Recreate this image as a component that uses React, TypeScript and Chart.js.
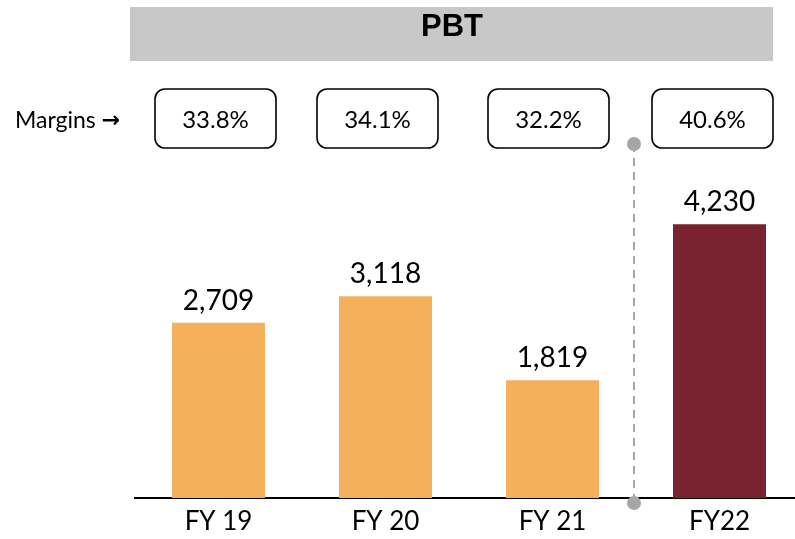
import React, { useEffect, useRef } from "react";
import { Chart, registerables } from "chart.js";
Chart.register(...registerables);

const categories = ["FY 19", "FY 20", "FY 21", "FY22"];
const pbtValues = [2709, 3118, 1819, 4230];
const marginValues = [33.8, 34.1, 32.2, 40.6];
const barColors = ["#F4B05A", "#F4B05A", "#F4B05A", "#7B2230"];
const titleText = "PBT";
const marginsLabel = "Margins";
const arrowLabel = "→";

function roundRect(ctx: CanvasRenderingContext2D, x: number, y: number, w: number, h: number, r: number) {
  ctx.beginPath();
  ctx.moveTo(x + r, y);
  ctx.lineTo(x + w - r, y);
  ctx.arcTo(x + w, y, x + w, y + r, r);
  ctx.lineTo(x + w, y + h - r);
  ctx.arcTo(x + w, y + h, x + w - r, y + h, r);
  ctx.lineTo(x + r, y + h);
  ctx.arcTo(x, y + h, x, y + h - r, r);
  ctx.lineTo(x, y + r);
  ctx.arcTo(x, y, x + r, y, r);
  ctx.closePath();
}

export default function App() {
  const ref = useRef<HTMLCanvasElement>(null);
  useEffect(() => {
    const boxLefts = [155, 317, 488, 652];
    const overlay = {
      id: "overlay",
      beforeDraw(chart: any) {
        const ctx = chart.ctx as CanvasRenderingContext2D;
        ctx.save();
        ctx.fillStyle = "#ffffff";
        ctx.fillRect(0, 0, chart.width, chart.height);
        // title bar
        ctx.fillStyle = "#C8C8C8";
        ctx.fillRect(130, 7, 643, 54);
        ctx.fillStyle = "#000";
        ctx.font = "bold 31px 'Liberation Sans', Arial, sans-serif";
        ctx.textAlign = "center";
        ctx.textBaseline = "middle";
        ctx.fillText(titleText, 452, 27);
        // margins label
        ctx.font = "23px Lato";
        ctx.textAlign = "left";
        ctx.fillText(marginsLabel, 15, 121);
        const w = ctx.measureText(marginsLabel + " ").width;
        ctx.font = "bold 22px 'DejaVu Sans'";
        ctx.fillText(arrowLabel, 15 + w, 121);
        // margin boxes
        ctx.lineWidth = 1.6;
        ctx.strokeStyle = "#000";
        marginValues.forEach((m, i) => {
          const x = boxLefts[i];
          roundRect(ctx, x, 89, 121, 59, 10);
          ctx.fillStyle = "#fff";
          ctx.fill();
          ctx.stroke();
          ctx.fillStyle = "#000";
          ctx.font = "24px Lato";
          ctx.textAlign = "center";
          ctx.textBaseline = "middle";
          ctx.fillText(m.toFixed(1) + "%", x + 60.5, 120);
        });
        ctx.restore();
      },
      afterDatasetsDraw(chart: any) {
        const ctx = chart.ctx as CanvasRenderingContext2D;
        const meta = chart.getDatasetMeta(0);
        ctx.save();
        ctx.fillStyle = "#000";
        ctx.font = "28px Lato";
        ctx.textAlign = "center";
        ctx.textBaseline = "alphabetic";
        meta.data.forEach((bar: any, i: number) => {
          ctx.fillText(pbtValues[i].toLocaleString("en-US"), bar.x, bar.y - 13);
        });
        ctx.restore();
      },
      afterDraw(chart: any) {
        const ctx = chart.ctx as CanvasRenderingContext2D;
        const xs = chart.scales.x;
        const x = (xs.getPixelForValue(2) + xs.getPixelForValue(3)) / 2 - 2;
        const yTop = 144;
        const yBot = chart.chartArea.bottom + 5;
        ctx.save();
        ctx.strokeStyle = "#A6A6A6";
        ctx.lineWidth = 2;
        ctx.setLineDash([8, 6]);
        ctx.beginPath();
        ctx.moveTo(x, yTop);
        ctx.lineTo(x, yBot);
        ctx.stroke();
        ctx.setLineDash([]);
        ctx.fillStyle = "#A6A6A6";
        ctx.beginPath();
        ctx.arc(x, yTop, 7, 0, Math.PI * 2);
        ctx.fill();
        ctx.beginPath();
        ctx.arc(x, yBot, 7, 0, Math.PI * 2);
        ctx.fill();
        ctx.restore();
      },
    };
    const chart = new Chart(ref.current as HTMLCanvasElement, {
      type: "bar",
      data: {
        labels: categories,
        datasets: [
          {
            data: pbtValues,
            backgroundColor: barColors,
            borderWidth: 0,
            barPercentage: 0.557,
            categoryPercentage: 1,
          },
        ],
      },
      options: {
        responsive: false,
        animation: false,
        layout: { padding: { left: 135, right: 17, top: 170, bottom: 0 } },
        plugins: { legend: { display: false }, tooltip: { enabled: false } },
        scales: {
          x: {
            grid: { display: false, drawTicks: false },
            border: { display: true, color: "#000", width: 2 },
            ticks: { color: "#000", font: { family: "Lato", size: 26 }, padding: 8 },
            afterFit(s: any) {
              s.height = 41;
            },
          },
          y: { display: false, min: 0, max: 5069 },
        },
      },
      plugins: [overlay],
    } as any);
    return () => chart.destroy();
  }, []);
  return (
    <div style={{ position: "fixed", left: 0, top: 0, width: 795, height: 539, overflow: "hidden", background: "#fff" }}>
      <canvas ref={ref} width={820} height={539} style={{ width: 820, height: 539, display: "block" }} />
    </div>
  );
}
